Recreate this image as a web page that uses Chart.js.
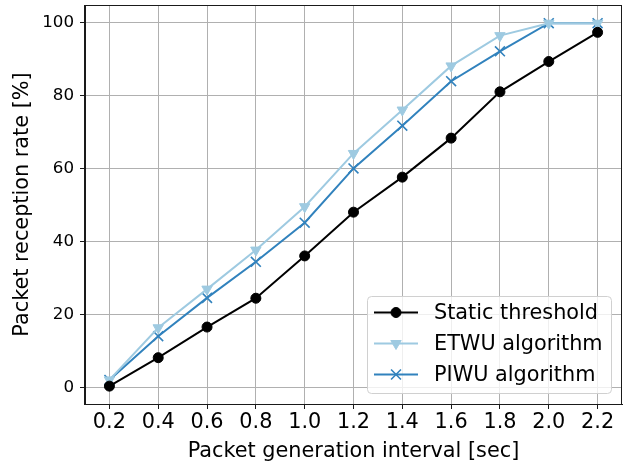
<!DOCTYPE html>
<html>
<head>
<meta charset="utf-8">
<title>Packet reception rate</title>
<script src="https://cdn.jsdelivr.net/npm/chart.js@4/dist/chart.umd.min.js"></script>
<style>
  html, body { margin: 0; padding: 0; background: #fff; }
  #chart { display: block; }
</style>
</head>
<body>
<canvas id="chart" width="632" height="466"></canvas>
<script>
(function(){
  'use strict';

  // Packet generation interval [sec]
  const intervals = [0.2, 0.4, 0.6, 0.8, 1.0, 1.2, 1.4, 1.6, 1.8, 2.0, 2.2];
  // Packet reception rate [%]
  const staticThreshold = [0.3, 8.1, 16.5, 24.4, 36.0, 48.0, 57.6, 68.3, 81.0, 89.3, 97.3];
  const etwuRate = [2.0, 16.3, 26.9, 37.6, 49.5, 64.1, 76.0, 88.1, 96.4, 99.8, 99.8];
  const piwuRate = [2.0, 14.0, 24.5, 34.4, 45.1, 60.0, 71.7, 83.9, 92.1, 99.8, 99.8];

  const xTicks = [0.2, 0.4, 0.6, 0.8, 1.0, 1.2, 1.4, 1.6, 1.8, 2.0, 2.2];
  const yTicks = [0, 20, 40, 60, 80, 100];

  const FONT = 'DejaVu Sans';
  const GRID = '#b0b0b0';

  function points(ys){
    return intervals.map((x, i) => ({ x: x, y: ys[i] }));
  }

  // Full box round the plot area (Chart.js only draws the axis borders)
  const frame = {
    id: 'frame',
    afterDatasetsDraw(chart){
      const a = chart.chartArea, ctx = chart.ctx;
      ctx.save();
      ctx.strokeStyle = '#1a1a1a';
      ctx.lineWidth = 1;
      ctx.strokeRect(Math.round(a.left) - 0.5, Math.round(a.top) + 0.5,
        Math.round(a.right - a.left), Math.round(a.bottom - a.top));
      ctx.restore();
    }
  };

  // Legend box in the lower right corner of the plot
  const cornerLegend = {
    id: 'cornerLegend',
    afterDraw(chart){
      const a = chart.chartArea, ctx = chart.ctx;
      const size = 20.8;
      const w = 244, h = 97;
      const right = a.right - 11, bottom = a.bottom - 11;
      const left = right - w, top = bottom - h;

      ctx.save();
      ctx.beginPath();
      ctx.roundRect(left + 0.5, top + 0.5, w, h, 4);
      ctx.fillStyle = 'rgba(255,255,255,0.8)';
      ctx.fill();
      ctx.strokeStyle = '#d0d0d0';
      ctx.lineWidth = 1;
      ctx.stroke();

      ctx.font = size + 'px "' + FONT + '"';
      ctx.textBaseline = 'middle';
      ctx.textAlign = 'left';

      chart.data.datasets.forEach((ds, i) => {
        const y = top + 16.5 + i * 31;
        const x0 = left + 7, x1 = x0 + 44;
        ctx.strokeStyle = ds.borderColor;
        ctx.lineWidth = ds.borderWidth;
        ctx.beginPath();
        ctx.moveTo(x0, y);
        ctx.lineTo(x1, y);
        ctx.stroke();
        ctx.fillStyle = ds.backgroundColor;
        ctx.strokeStyle = ds.borderColor;
        ctx.lineWidth = ds.pointBorderWidth || 1;
        Chart.helpers.drawPoint(ctx, {
          pointStyle: ds.pointStyle,
          rotation: ds.pointRotation || 0,
          radius: ds.pointRadius,
          borderWidth: ds.pointBorderWidth || 1
        }, (x0 + x1) / 2, y);
        ctx.fillStyle = '#000';
        ctx.fillText(ds.label, x1 + 16, y + 1);
      });
      ctx.restore();
    }
  };

  function fixedTicks(values){
    return function(scale){ scale.ticks = values.map(v => ({ value: v })); };
  }

  const el = document.getElementById('chart');

  new Chart(el, {
    type: 'line',
    data: {
      datasets: [
        {
          label: 'Static threshold',
          data: points(staticThreshold),
          borderColor: '#000000',
          backgroundColor: '#000000',
          borderWidth: 2,
          pointStyle: 'circle',
          pointRadius: 5,
          pointBorderWidth: 1
        },
        {
          label: 'ETWU algorithm',
          data: points(etwuRate),
          borderColor: '#9ecae1',
          backgroundColor: '#9ecae1',
          borderWidth: 2,
          pointStyle: 'triangle',
          pointRotation: 180,
          pointRadius: 6,
          pointBorderWidth: 1
        },
        {
          label: 'PIWU algorithm',
          data: points(piwuRate),
          borderColor: '#3182bd',
          backgroundColor: '#3182bd',
          borderWidth: 2,
          pointStyle: 'crossRot',
          pointRadius: 7,
          pointBorderWidth: 1.6
        }
      ]
    },
    options: {
      responsive: false,
      devicePixelRatio: 1,
      animation: false,
      events: [],
      // point overflow padding off, the plot box is placed by hand
      layout: { autoPadding: false, padding: { top: 5, right: 10, bottom: 0, left: 0 } },
      elements: { line: { tension: 0 } },
      plugins: {
        legend: { display: false },
        tooltip: { enabled: false }
      },
      scales: {
        x: {
          type: 'linear',
          min: 0.1,
          max: 2.3,
          afterBuildTicks: fixedTicks(xTicks),
          afterFit(scale){
            scale.height = 62;
            scale.paddingLeft = 0;
            scale.paddingRight = 0;
          },
          grid: { color: GRID, lineWidth: 1, tickColor: '#1a1a1a', tickLength: 5 },
          border: { color: '#1a1a1a', width: 1 },
          ticks: {
            color: '#000',
            padding: 1,
            maxRotation: 0,
            font: { family: FONT, size: 20.8 },
            callback: v => Number(v).toFixed(1)
          },
          title: {
            display: true,
            text: 'Packet generation interval [sec]',
            color: '#000',
            font: { family: FONT, size: 20.8 },
            padding: { top: 0, bottom: 2 }
          }
        },
        y: {
          type: 'linear',
          min: -4.6,
          max: 104.8,
          afterBuildTicks: fixedTicks(yTicks),
          afterFit(scale){
            scale.width = 85;
            scale.paddingTop = 0;
            scale.paddingBottom = 0;
          },
          grid: { color: GRID, lineWidth: 1, tickColor: '#1a1a1a', tickLength: 5 },
          border: { color: '#1a1a1a', width: 1 },
          ticks: {
            color: '#000',
            padding: 6,
            font: { family: FONT, size: 16.7 }
          },
          title: {
            display: true,
            text: 'Packet reception rate [%]',
            color: '#000',
            font: { family: FONT, size: 20.8 },
            padding: { top: 10, bottom: 0 }
          }
        }
      }
    },
    plugins: [frame, cornerLegend]
  });
})();
</script>
</body>
</html>
